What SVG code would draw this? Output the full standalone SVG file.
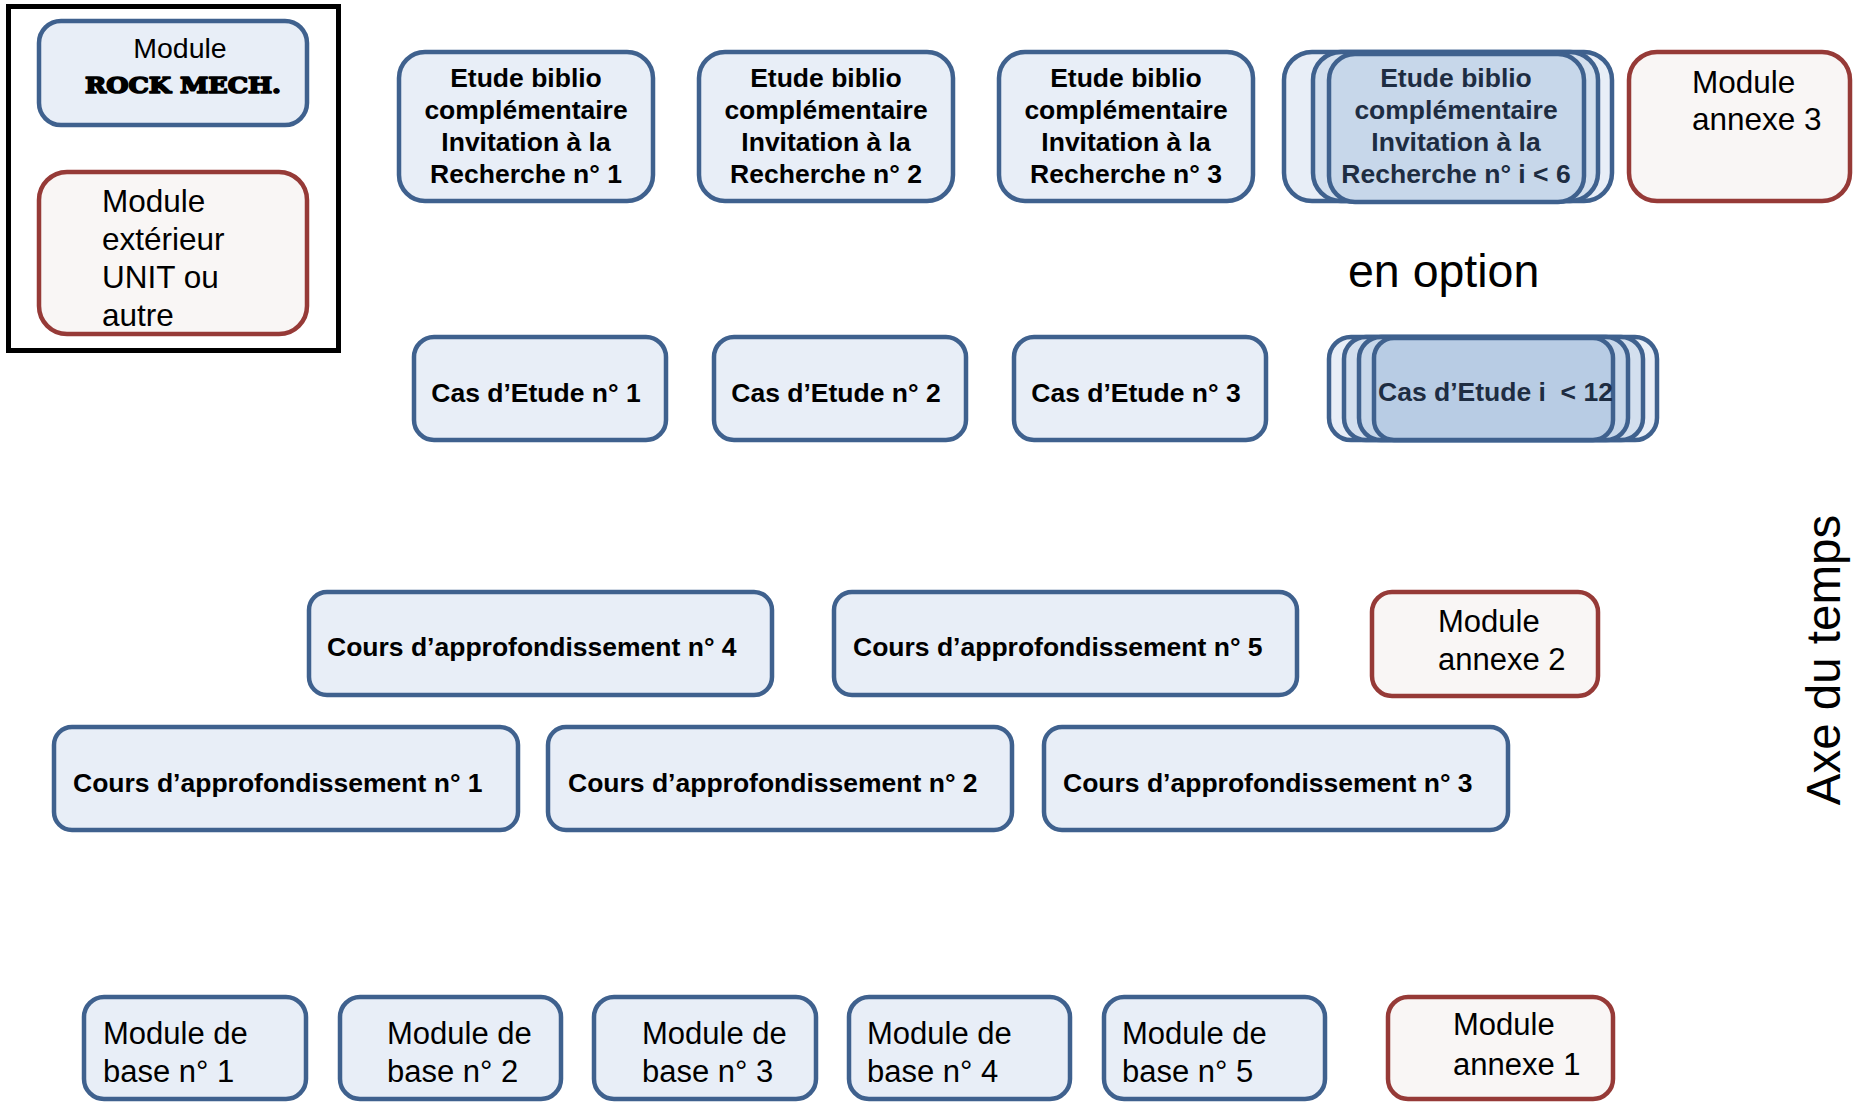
<svg xmlns="http://www.w3.org/2000/svg" width="1858" height="1104" viewBox="0 0 1858 1104">
<style>
.b{fill:#E8EEF7;stroke:#3F618E;stroke-width:4.5}
.r{fill:#F9F6F5;stroke:#963A37;stroke-width:4.5}
.s1{fill:#E8EEF7;stroke:#3F618E;stroke-width:4.5}
.s2{fill:#D3DFEE;stroke:#3F618E;stroke-width:4.5}
.s3{fill:#C7D7EA;stroke:#3F618E;stroke-width:4.5}
.s4{fill:#B8CCE4;stroke:#3F618E;stroke-width:4.5}
.tb{font-family:"Liberation Sans",Arial,sans-serif;font-weight:bold;font-size:26.5px;fill:#000}
.tbd{font-family:"Liberation Sans",Arial,sans-serif;font-weight:bold;font-size:26.5px;fill:#1E2D42}
.tr{font-family:"Liberation Sans",Arial,sans-serif;font-size:31px;fill:#000}
.m{text-anchor:middle}
</style>
<rect x="0" y="0" width="1858" height="1104" fill="#fff"/>

<g id="legend">
<rect x="8.5" y="6.5" width="330" height="344" fill="#fff" stroke="#000" stroke-width="5"/>
</g>
<g id="legend-rock">
<rect class="b" x="39" y="21" width="268" height="104" rx="22"/>
<text class="tr m" x="180" y="58" style="font-size:28.5px">Module</text>
<text x="85" y="93" textLength="196" lengthAdjust="spacingAndGlyphs" style="font-family:'DejaVu Serif',serif;font-weight:bold;font-size:22px;fill:#000;stroke:#000;stroke-width:1.6;stroke-linejoin:round">ROCK MECH.</text>
</g>
<g id="legend-ext">
<rect class="r" x="39" y="172" width="268" height="162" rx="28"/>
<text class="tr" x="102" y="212" style="font-size:31.5px">Module</text>
<text class="tr" x="102" y="250" style="font-size:31.5px">extérieur</text>
<text class="tr" x="102" y="288" style="font-size:31.5px">UNIT ou</text>
<text class="tr" x="102" y="326" style="font-size:31.5px">autre</text>
</g>

<g id="etude1">
<rect class="b" x="399" y="52" width="254" height="149" rx="26"/>
<text class="tb m" x="526" y="87">Etude biblio</text>
<text class="tb m" x="526" y="119">complémentaire</text>
<text class="tb m" x="526" y="151">Invitation à la</text>
<text class="tb m" x="526" y="183">Recherche n° 1</text>
</g>
<g id="etude2">
<rect class="b" x="699" y="52" width="254" height="149" rx="26"/>
<text class="tb m" x="826" y="87">Etude biblio</text>
<text class="tb m" x="826" y="119">complémentaire</text>
<text class="tb m" x="826" y="151">Invitation à la</text>
<text class="tb m" x="826" y="183">Recherche n° 2</text>
</g>
<g id="etude3">
<rect class="b" x="999" y="52" width="254" height="149" rx="26"/>
<text class="tb m" x="1126" y="87">Etude biblio</text>
<text class="tb m" x="1126" y="119">complémentaire</text>
<text class="tb m" x="1126" y="151">Invitation à la</text>
<text class="tb m" x="1126" y="183">Recherche n° 3</text>
</g>
<g id="etude-i">
<rect class="s1" x="1284" y="52" width="328" height="149" rx="28"/>
<rect class="s2" x="1313" y="52" width="285" height="149" rx="28"/>
<rect class="s3" x="1329" y="54" width="255" height="148" rx="26"/>
<text class="tbd m" x="1456" y="87">Etude biblio</text>
<text class="tbd m" x="1456" y="119">complémentaire</text>
<text class="tbd m" x="1456" y="151">Invitation à la</text>
<text class="tbd m" x="1456" y="183">Recherche n° i &lt; 6</text>
</g>
<g id="annexe3">
<rect class="r" x="1629" y="52" width="221" height="149" rx="28"/>
<text class="tr" x="1692" y="93" style="font-size:31.5px">Module</text>
<text class="tr" x="1692" y="130" style="font-size:31.5px">annexe 3</text>
</g>

<g id="en-option">
<text class="tr" x="1348" y="287" style="font-size:46.5px">en option</text>
</g>

<g id="cas1">
<rect class="b" x="414" y="337" width="252" height="103" rx="20"/>
<text class="tb m" x="536" y="402">Cas d’Etude n° 1</text>
</g>
<g id="cas2">
<rect class="b" x="714" y="337" width="252" height="103" rx="20"/>
<text class="tb m" x="836" y="402">Cas d’Etude n° 2</text>
</g>
<g id="cas3">
<rect class="b" x="1014" y="337" width="252" height="103" rx="20"/>
<text class="tb m" x="1136" y="402">Cas d’Etude n° 3</text>
</g>
<g id="cas-i">
<rect class="s1" x="1329" y="337" width="328" height="103" rx="22"/>
<rect class="s2" x="1344" y="337" width="299" height="103" rx="22"/>
<rect class="s3" x="1359" y="337" width="269" height="103" rx="22"/>
<rect class="s4" x="1374" y="338" width="239" height="102" rx="20"/>
<text class="tbd" x="1378" y="401" style="white-space:pre">Cas d’Etude i  &lt; 12</text>
</g>

<g id="cours4">
<rect class="b" x="309" y="592" width="463" height="103" rx="18"/>
<text class="tb" x="327" y="656">Cours d’approfondissement n° 4</text>
</g>
<g id="cours5">
<rect class="b" x="834" y="592" width="463" height="103" rx="18"/>
<text class="tb" x="853" y="656">Cours d’approfondissement n° 5</text>
</g>
<g id="annexe2">
<rect class="r" x="1372" y="592" width="226" height="104" rx="20"/>
<text class="tr" x="1438" y="632">Module</text>
<text class="tr" x="1438" y="670">annexe 2</text>
</g>
<g id="cours1">
<rect class="b" x="54" y="727" width="464" height="103" rx="18"/>
<text class="tb" x="73" y="792">Cours d’approfondissement n° 1</text>
</g>
<g id="cours2">
<rect class="b" x="548" y="727" width="464" height="103" rx="18"/>
<text class="tb" x="568" y="792">Cours d’approfondissement n° 2</text>
</g>
<g id="cours3">
<rect class="b" x="1044" y="727" width="464" height="103" rx="18"/>
<text class="tb" x="1063" y="792">Cours d’approfondissement n° 3</text>
</g>

<g id="base1">
<rect class="b" x="84" y="997" width="222" height="102" rx="20"/>
<text class="tr" x="103" y="1044">Module de</text>
<text class="tr" x="103" y="1082">base n° 1</text>
</g>
<g id="base2">
<rect class="b" x="340" y="997" width="221" height="102" rx="20"/>
<text class="tr" x="387" y="1044">Module de</text>
<text class="tr" x="387" y="1082">base n° 2</text>
</g>
<g id="base3">
<rect class="b" x="594" y="997" width="222" height="102" rx="20"/>
<text class="tr" x="642" y="1044">Module de</text>
<text class="tr" x="642" y="1082">base n° 3</text>
</g>
<g id="base4">
<rect class="b" x="849" y="997" width="221" height="102" rx="20"/>
<text class="tr" x="867" y="1044">Module de</text>
<text class="tr" x="867" y="1082">base n° 4</text>
</g>
<g id="base5">
<rect class="b" x="1104" y="997" width="221" height="102" rx="20"/>
<text class="tr" x="1122" y="1044">Module de</text>
<text class="tr" x="1122" y="1082">base n° 5</text>
</g>
<g id="annexe1">
<rect class="r" x="1388" y="997" width="225" height="102" rx="20"/>
<text class="tr" x="1453" y="1035">Module</text>
<text class="tr" x="1453" y="1075">annexe 1</text>
</g>

<g id="axe">
<text class="tr m" transform="translate(1840,660) rotate(-90)" style="font-size:47.5px">Axe du temps</text>
</g>

<g id="connectors"></g>
</svg>
